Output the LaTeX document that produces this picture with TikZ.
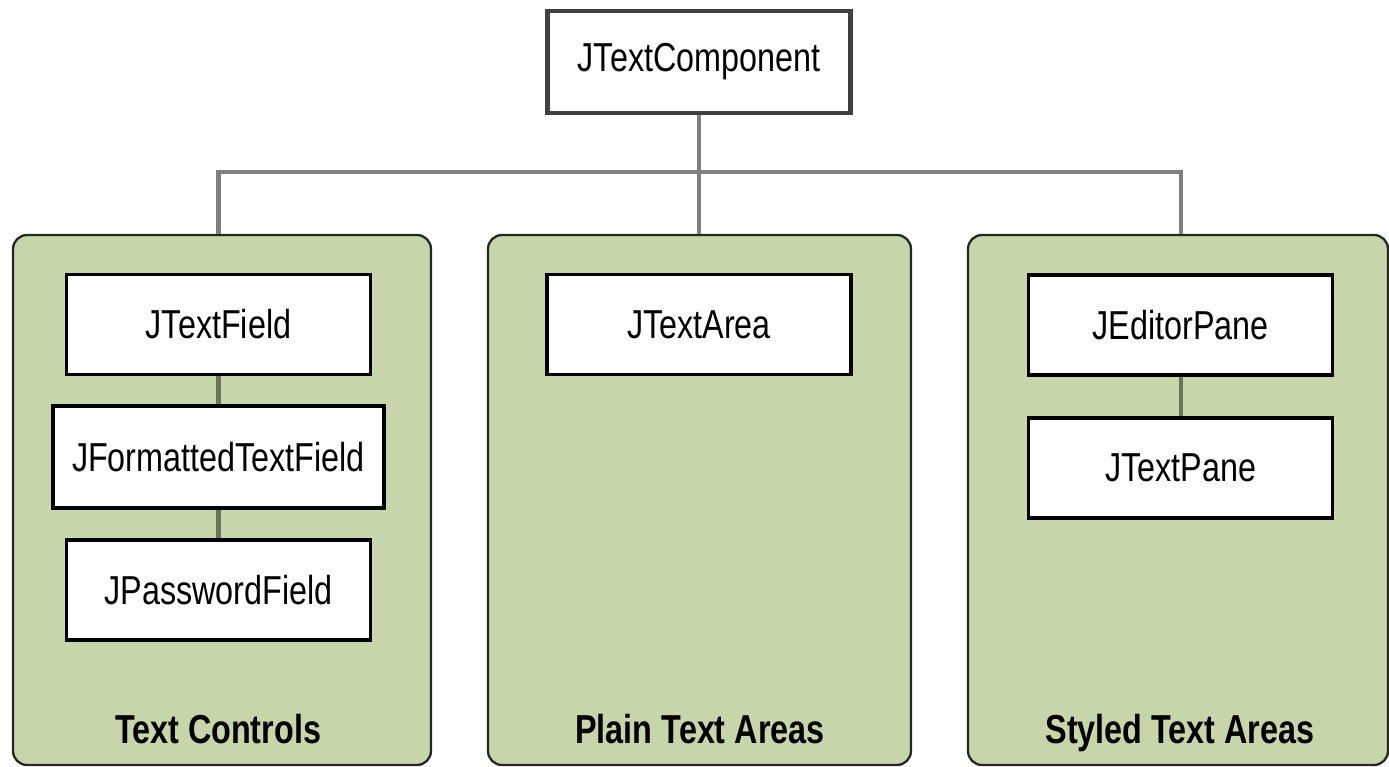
\documentclass[tikz,border=0pt]{standalone}
\usepackage{fontspec}
\setmainfont{Liberation Sans}[FakeStretch=0.8]
\usepackage{tikz}
\usetikzlibrary{positioning,calc}
\definecolor{PanelGreen}{HTML}{C6D5AA}
\definecolor{LinkGray}{HTML}{808080}
\definecolor{InnerLink}{HTML}{6B735A}
\definecolor{TopBorder}{HTML}{404040}

\begin{document}
\begin{tikzpicture}[
    font=\fontsize{23}{27}\selectfont,
    classe/.style={draw=black, fill=white, line width=1.8pt, minimum width=6.08cm, minimum height=2.0cm, inner sep=0pt},
    painel/.style={draw=black!85, fill=PanelGreen, rounded corners=8pt, line width=1.3pt, minimum height=10.6cm, inner sep=0pt},
    titulo/.style={font=\fontsize{23}{27}\selectfont\bfseries, anchor=base},
    link/.style={draw=LinkGray, line width=2.3pt},
    link_interno/.style={draw=InnerLink, line width=2.3pt}
]

  \useasboundingbox (0, 0) rectangle (27.78, -15.34);

  % Classe base
  \node[classe, draw=TopBorder, line width=2.8pt, minimum width=6.06cm, minimum height=2.04cm] (comp) at (13.98, -1.24) {JTextComponent};

  % =========================================================================
  % PAINEIS
  % =========================================================================
  \node[painel, minimum width=8.36cm] (area_ctrl) at (4.44, -10.0) {};
  \node[painel, minimum width=8.46cm] (area_plain) at (13.99, -10.0) {};
  \node[painel, minimum width=8.40cm] (area_styled) at (23.56, -10.0) {};

  \node[titulo] (tit_ctrl) at (4.36, -14.86) {Text Controls};
  \node[titulo] (tit_plain) at (14.0, -14.86) {Plain Text Areas};
  \node[titulo] (tit_styled) at (23.6, -14.86) {Styled Text Areas};

  % Text Controls
  \node[classe] (tc_field) at (4.37, -6.49) {JTextField};
  \node[classe, minimum width=6.62cm, minimum height=2.04cm] (tc_fmt) at (4.37, -9.14) {JFormattedTextField};
  \node[classe] (tc_pass) at (4.37, -11.8) {JPasswordField};

  % Plain Text Areas
  \node[classe] (pt_area) at (13.98, -6.49) {JTextArea};

  % Styled Text Areas
  \node[classe] (st_editor) at (23.61, -6.5) {JEditorPane};
  \node[classe] (st_pane) at (23.61, -9.36) {JTextPane};

  % =========================================================================
  % LIGACOES
  % =========================================================================
  \coordinate (bus) at (13.98, -3.44);
  \draw[link] (comp.south) -- (comp.south |- area_plain.north);
  \draw[link] (tc_field.north |- area_ctrl.north) |- (bus) -| (st_editor.north |- area_styled.north);

  \draw[link_interno] (tc_field.south) -- (tc_fmt.north);
  \draw[link_interno] (tc_fmt.south) -- (tc_pass.north);
  \draw[link_interno] (st_editor.south) -- (st_pane.north);

\end{tikzpicture}
\end{document}
